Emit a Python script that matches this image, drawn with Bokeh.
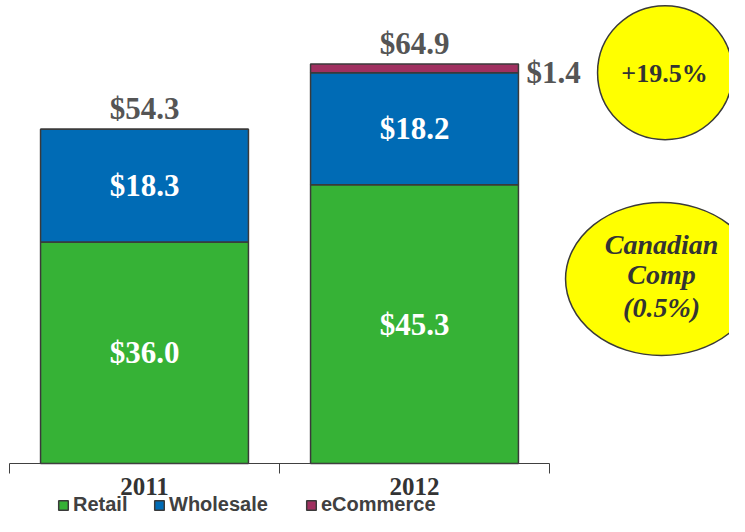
from bokeh.plotting import figure
from bokeh.models import Range1d, FixedTicker, Legend, LegendItem, ColumnDataSource, CustomJSTickFormatter
from bokeh.core.properties import value
from bokeh.embed import file_html
from bokeh.resources import INLINE

# ---------------- data ----------------
years = ["2011", "2012"]
series_names = ["Retail", "Wholesale", "eCommerce"]
retail = [36.0, 45.3]
wholesale = [18.3, 18.2]
ecommerce = [0.0, 1.4]
growth_text = "+19.5%"
comp_text = ["Canadian", "Comp", "(0.5%)"]

# ---------------- style / layout ----------------
GREEN = "#36B236"
BLUE = "#006BB5"
PURPLE = "#A03060"
YELLOW = "#FFFF00"
OUTLINE = "#3A3A3A"
GRAY_TXT = "#555555"
DARK_TXT = "#333333"
SERIF = value("Liberation Serif")
BAR_W = 0.77

W, H = 729, 516
PX_X = 1 / 270.0          # data units per pixel, x
PX_Y = 1 / 6.155          # data units per pixel, y
X0_PX, Y0_PX = 9, 463     # pixel position of data origin

xs = [i + 0.5 for i in range(len(years))]

p = figure(width=W, height=H,
           x_range=Range1d(-X0_PX * PX_X, (W - X0_PX) * PX_X),
           y_range=Range1d(-(H - Y0_PX) * PX_Y, Y0_PX * PX_Y),
           output_backend="svg", toolbar_location=None, y_axis_location=None,
           min_border_left=0, min_border_right=0, min_border_top=0, min_border_bottom=0)
p.outline_line_color = None
p.xgrid.visible = False
p.ygrid.visible = False
p.background_fill_color = "white"
p.border_fill_color = "white"

src = ColumnDataSource(dict(x=xs, Retail=retail, Wholesale=wholesale, eCommerce=ecommerce))
rends = p.vbar_stack(series_names, x="x", width=BAR_W, source=src,
                     fill_color=[GREEN, BLUE, PURPLE], line_color=OUTLINE, line_width=1.5)

# x axis, drawn at y = 0
ax = p.xaxis[0]
ax.fixed_location = 0
ax.ticker = FixedTicker(ticks=xs, minor_ticks=list(range(len(years) + 1)))
ax.formatter = CustomJSTickFormatter(args=dict(labels=years),
                                     code="return labels[Math.floor(tick)];")
ax.bounds = (0, len(years))
ax.major_tick_out = 0
ax.major_tick_in = 0
ax.minor_tick_out = 10
ax.minor_tick_in = 0
ax.minor_tick_line_color = "#404040"
ax.axis_line_color = "#404040"
ax.major_label_standoff = 4
ax.major_label_text_font = "Liberation Serif"
ax.major_label_text_font_style = "bold"
ax.major_label_text_font_size = "25px"
ax.major_label_text_color = DARK_TXT

# inside labels
in_x, in_y, in_t = [], [], []
for i in range(len(years)):
    in_x += [xs[i], xs[i]]
    in_y += [retail[i] / 2, retail[i] + wholesale[i] / 2]
    in_t += [f"${retail[i]:.1f}", f"${wholesale[i]:.1f}"]
p.text(x=in_x, y=in_y, text=in_t, text_font=SERIF, text_font_style="bold",
       text_font_size="31px", text_color="white", text_align="center",
       text_baseline="middle")

# totals above bars
totals = [r + w + e for r, w, e in zip(retail, wholesale, ecommerce)]
p.text(x=xs, y=[t + 21 * PX_Y for t in totals], text=[f"${t:.1f}" for t in totals],
       text_font=SERIF, text_font_style="bold", text_font_size="31px",
       text_color=GRAY_TXT, text_align="center", text_baseline="middle")

# eCommerce label to the right of its thin segment
e_x, e_y, e_t = [], [], []
for i in range(len(years)):
    if ecommerce[i] > 0:
        e_x.append(xs[i] + BAR_W / 2 + 8 * PX_X)
        e_y.append(retail[i] + wholesale[i] + ecommerce[i] / 2 - 4 * PX_Y)
        e_t.append(f"${ecommerce[i]:.1f}")
p.text(x=e_x, y=e_y, text=e_t, text_font=SERIF, text_font_style="bold",
       text_font_size="31px", text_color=GRAY_TXT, text_align="left",
       text_baseline="middle")

# callout ellipses
p.ellipse(x=[2.428], y=[63.5], width=135, height=134, width_units="screen",
          height_units="screen", fill_color=YELLOW, line_color=OUTLINE, line_width=1.5)
p.text(x=[2.426], y=[63.3], text=[growth_text], text_font=SERIF, text_font_style="bold",
       text_font_size="26px", text_color=DARK_TXT, text_align="center", text_baseline="middle")

p.ellipse(x=[2.415], y=[29.98], width=192, height=153, width_units="screen",
          height_units="screen", fill_color=YELLOW, line_color=OUTLINE, line_width=1.5)
p.text(x=[2.415] * 3, y=[35.58, 30.7, 25.35], text=comp_text, text_font=SERIF,
       text_font_style="bold italic", text_font_size="28px", text_color=DARK_TXT,
       text_align="center", text_baseline="middle")

# legends (one per series so each sits where the reference shows it)
leg_x = [57, 153, 305]
for name, r, lx in zip(series_names, rends, leg_x):
    leg = Legend(items=[LegendItem(label=name, renderers=[r])], location=(lx, 0),
                 orientation="horizontal", padding=0, margin=0, border_line_color=None,
                 background_fill_alpha=0, glyph_width=12, glyph_height=12, label_standoff=4,
                 label_height=14, label_text_font="Liberation Sans", label_text_font_style="bold",
                 label_text_font_size="20px", label_text_color="#404040")
    p.add_layout(leg)

open("out.html", "w").write(file_html(p, INLINE))
